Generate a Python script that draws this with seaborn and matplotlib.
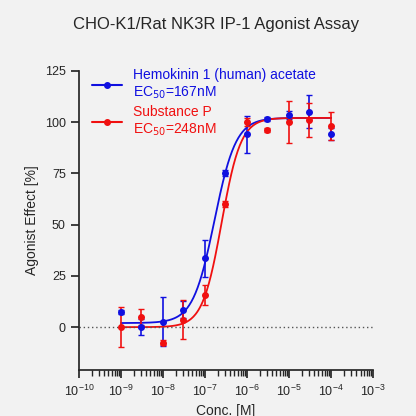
import numpy as np
import matplotlib
matplotlib.use("Agg")
import matplotlib.pyplot as plt
import seaborn as sns

conc = [1e-9, 3e-9, 1e-8, 3e-8, 1e-7, 3e-7, 1e-6, 3e-6, 1e-5, 3e-5, 1e-4]
hk_mean = [7.5, 0, 2.6, 8.6, 33.5, 75, 94, 101.5, 103.5, 105, 94]
hk_err = [1, 4, 12, 4, 9, 1.5, 9, 1, 2, 8, 3]
sp_mean = [0, 5, -7.5, 3.7, 15.6, 60, 100, 96, 100, 101, 98]
sp_err = [9.6, 4, 1, 9.7, 5, 1.5, 2, 1, 10, 8.5, 7]
# fitted Hill parameters: bottom, top, EC50, slope
hk_fit = (2.0, 102.0, 167e-9, 1.7)
sp_fit = (0.0, 102.0, 248e-9, 1.9)

sns.set_theme(style="ticks")
plt.rcParams["font.family"] = ["Arial", "Liberation Sans", "DejaVu Sans"]
fig = plt.figure(figsize=(4.16, 4.16), dpi=100, facecolor="#f2f2f2")
ax = fig.add_axes([0.19, 0.11, 0.707, 0.72])
ax.set_facecolor("#f2f2f2")

xs = np.logspace(-9, -4, 300)
for mean, err, fit, col, lab in [
    (hk_mean, hk_err, hk_fit, "#1010e0", "Hemokinin 1 (human) acetate\nEC$_{50}$=167nM"),
    (sp_mean, sp_err, sp_fit, "#f01010", "Substance P\nEC$_{50}$=248nM"),
]:
    b, t, ec, h = fit
    ys = b + (t - b) / (1 + (ec / xs) ** h)
    ax.errorbar(conc, mean, yerr=err, fmt="o", ms=4, color=col, capsize=2.5, elinewidth=1.2)
    ax.plot(xs, ys, color=col, lw=1.3)
    ax.plot([], [], color=col, marker="o", ms=4, label=lab)

ax.axhline(0, color="#555555", ls=(0, (1, 2)), lw=1)
ax.set_xscale("log")
ax.set_xlim(1e-10, 1e-3)
ax.set_ylim(-21, 125)
ax.set_yticks([0, 25, 50, 75, 100, 125])
ax.set_xticks([10.0 ** k for k in range(-10, -2)])
ax.xaxis.set_minor_locator(matplotlib.ticker.LogLocator(subs=np.arange(2, 10), numticks=20))
ax.tick_params(labelsize=9)
ax.set_xlabel("Conc. [M]", fontsize=10)
ax.set_ylabel("Agonist Effect [%]", fontsize=10)
sns.despine(ax=ax)
leg = ax.legend(loc="upper left", bbox_to_anchor=(0.0, 1.05), frameon=False, fontsize=10,
                handlelength=2.2, labelspacing=0.3)
for txt, col in zip(leg.get_texts(), ["#1010e0", "#f01010"]):
    txt.set_color(col)
fig.suptitle("CHO-K1/Rat NK3R IP-1 Agonist Assay", x=0.52, y=0.96, fontsize=12)
fig.savefig("out.png", dpi=100, facecolor=fig.get_facecolor())
